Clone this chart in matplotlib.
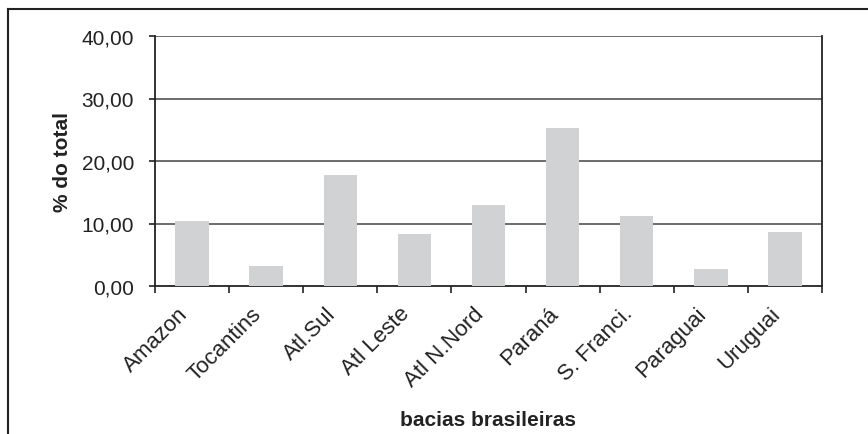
import matplotlib
matplotlib.use("Agg")
import matplotlib.pyplot as plt
from matplotlib.lines import Line2D
from matplotlib.transforms import ScaledTranslation
import numpy as np

categories = ["Amazon", "Tocantins", "Atl.Sul", "Atl Leste", "Atl N.Nord",
              "Paraná", "S. Franci.", "Paraguai", "Uruguai"]
values = [10.4, 3.2, 17.8, 8.25, 12.95, 25.3, 11.25, 2.8, 8.65]
yticks = [0, 10, 20, 30, 40]
ytick_labels = ["0,00", "10,00", "20,00", "30,00", "40,00"]

plt.rcParams['font.family'] = ['Liberation Sans', 'DejaVu Sans']

W, H = 868, 435
fig = plt.figure(figsize=(W / 100, H / 100), dpi=100)
ax = fig.add_axes([155 / W, 1 - 287 / H, (822 - 155) / W, (287 - 37) / H])

x = np.arange(len(categories))
ax.bar(x, values, width=0.45, color="#d1d2d4", zorder=3)

ax.set_xlim(-0.5, len(categories) - 0.5)
ax.set_ylim(0, 40)

for yv in yticks[1:]:
    ax.axhline(yv, color="#606060", linewidth=1.3, zorder=1)

ax.set_yticks(yticks)
ax.set_yticklabels(ytick_labels, fontsize=15, color="#222222")
ax.tick_params(axis="y", direction="out", length=4, width=1.2, pad=11, colors="#222222")

ax.set_xticks(x)
ax.set_xticklabels(categories, rotation=45, ha="right", rotation_mode="anchor",
                   fontsize=16, color="#222222")
ax.tick_params(axis="x", which="major", length=0, pad=12)
offset = ScaledTranslation(-15 / 100, 0, fig.dpi_scale_trans)
for lab in ax.get_xticklabels():
    lab.set_transform(lab.get_transform() + offset)
ax.set_xticks(np.arange(len(categories) + 1) - 0.5, minor=True)
ax.tick_params(axis="x", which="minor", direction="out", length=5, width=1.2, color="#222222")

for s in ["left", "bottom", "right"]:
    ax.spines[s].set_color("#222222")
    ax.spines[s].set_linewidth(1.3)
ax.spines["top"].set_visible(False)

ax.set_ylabel("% do total", fontsize=15, fontweight="bold", color="#222222", labelpad=7)
ax.set_xlabel("bacias brasileiras", fontsize=15, fontweight="bold", color="#222222", labelpad=14)

# outer frame (top and left edges)
fig.add_artist(Line2D([8 / W, 1.0], [1 - 10 / H, 1 - 10 / H], transform=fig.transFigure,
                      color="#222222", linewidth=1.5))
fig.add_artist(Line2D([8 / W, 8 / W], [1 - 10 / H, 0], transform=fig.transFigure,
                      color="#222222", linewidth=1.5))

fig.savefig("out.png", dpi=100)
